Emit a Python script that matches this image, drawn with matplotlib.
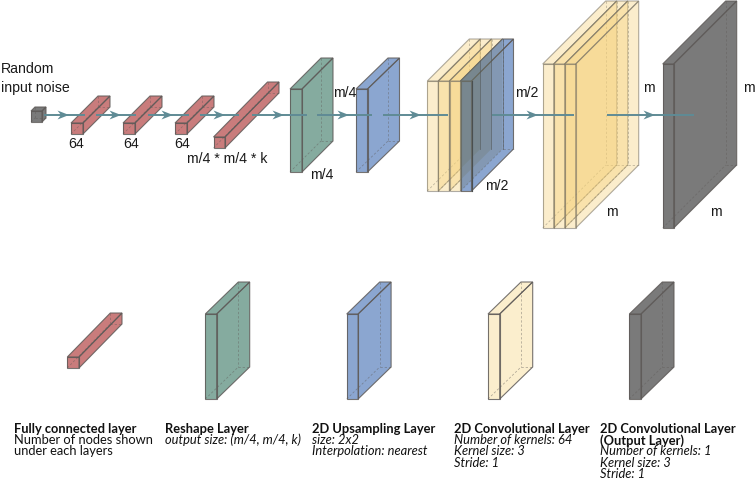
import matplotlib
matplotlib.use("Agg")
import matplotlib.pyplot as plt
from matplotlib.patches import Polygon

RED = '#c97c7c'
GREEN = '#85ab9f'
BLUE = '#8ba6d0'
PALE = '#fbeecd'
GRAY = '#7a7a7a'
ARROW = '#5f8b95'

# layer boxes: colour, front left x, front top y, front width, front height, depth x, depth y
box_colors = [GRAY, RED, RED, RED, RED, GREEN, BLUE,
              RED, GREEN, BLUE, PALE, GRAY]
box_x = [31, 71, 123, 175, 213.5, 290, 356,
         67.3, 205.3, 346.7, 488, 629.3]
box_y = [111, 123, 123, 123, 137, 89, 89,
         357, 314, 314, 314, 314]
box_w = [11, 12, 12, 12, 11.5, 12, 11.5,
         11.7, 11.4, 11.4, 11.7, 11.7]
box_h = [11, 11, 11, 11, 11, 83, 83,
         11, 85, 85, 85, 85]
box_dx = [4, 27, 27, 27, 54, 31, 32,
          43, 33, 33, 33, 33]
box_dy = [4, 27, 27, 27, 55, 31, 31,
          44, 32, 32, 32, 32]

# stacked conv layers
mid_x = [427.3, 438.4, 449.5]
mid_y = 81
mid_w = 11
mid_h = 110
mid_d = 42
mid_blue_x = 460.5

big_x = [542.7, 553.7, 564.7]
big_y = 64
big_w = 11
big_h = 164
big_d = 63
out_x = 662.7

# arrows: shaft start, shaft end, arrow head centre
arrow_y = 115
shaft_from = [44, 96, 148, 200, 252, 317, 383, 492, 607]
shaft_to = [85, 136, 189, 239, 307, 372, 448, 574, 694]
head_at = [63, 115, 167, 219, 278, 343, 415, 532, 649]

label_text = ['Random', 'input noise', '64', '64', '64', 'm/4 * m/4 * k', 'm/4', 'm/4',
              'm/2', 'm/2', 'm', 'm', 'm', 'm']
label_x = [1, 1, 76, 131, 182, 227, 345, 322, 497, 527, 649, 749, 612, 716]
label_y = [69, 88, 144, 144, 144, 159, 93, 175, 186, 93, 88, 88, 212, 212]

legend_x = [14, 165, 312, 454, 600]
legend_lines = [
    [('Fully connected layer', 'bold'), ('Number of nodes shown', 'normal'), ('under each layers', 'normal')],
    [('Reshape Layer', 'bold'), ('output size: (m/4, m/4, k)', 'italic')],
    [('2D Upsampling Layer', 'bold'), ('size: 2x2', 'italic'), ('Interpolation: nearest', 'italic')],
    [('2D Convolutional Layer', 'bold'), ('Number of kernels: 64', 'italic'), ('Kernel size: 3', 'italic'), ('Stride: 1', 'italic')],
    [('2D Convolutional Layer', 'bold'), ('(Output Layer)', 'bold'), ('Number of kernels: 1', 'italic'), ('Kernel size: 3', 'italic'), ('Stride: 1', 'italic')],
]
legend_top = 429
legend_step = 11.2


def draw_box(ax, x, y, w, h, dx, dy, color, alpha=1.0, edge='#5e5a58', z=2, edge_alpha=0.85):
    right = x + w
    bottom = y + h
    faces = [
        [(x, y), (right, y), (right, bottom), (x, bottom)],
        [(right, y), (right + dx, y - dy), (right + dx, bottom - dy), (right, bottom)],
        [(x, y), (x + dx, y - dy), (right + dx, y - dy), (right, y)],
    ]
    for face in faces:
        ax.add_patch(Polygon(face, closed=True, facecolor=color, edgecolor='none', alpha=alpha, zorder=z))
    # hidden edges
    hidden = [
        [(x + dx, y - dy), (x + dx, bottom - dy)],
        [(x + dx, bottom - dy), (right + dx, bottom - dy)],
        [(x, bottom), (x + dx, bottom - dy)],
    ]
    for line in hidden:
        xs, ys = zip(*line)
        ax.plot(xs, ys, color=edge, lw=0.55, ls=(0, (3, 2.5)), alpha=0.5, zorder=z)
    for face in faces:
        ax.add_patch(Polygon(face, closed=True, fill=False, edgecolor=edge, lw=0.8, alpha=edge_alpha, zorder=z))


def draw_head(ax, xc, y, color):
    head = [(xc + 6, y), (xc - 5.5, y - 4.5), (xc - 2, y), (xc - 5.5, y + 4.5)]
    ax.add_patch(Polygon(head, closed=True, facecolor=color, edgecolor='none', zorder=6))


fig = plt.figure(figsize=(7.56, 4.8), dpi=100)
ax = fig.add_axes([0, 0, 1, 1])
ax.set_xlim(0, 756)
ax.set_ylim(480, 0)
ax.axis('off')

for i in range(len(box_x)):
    draw_box(ax, box_x[i], box_y[i], box_w[i], box_h[i], box_dx[i], box_dy[i], box_colors[i])

# yellow stacks, the overlap builds up darker
for i, x in enumerate(mid_x):
    draw_box(ax, x, mid_y, mid_w, mid_h, mid_d, mid_d, '#f6d27a', alpha=0.38, edge='#7a7466',
             z=2 + i * 0.1, edge_alpha=0.6)
draw_box(ax, mid_blue_x, mid_y, mid_w, mid_h, mid_d, mid_d, BLUE, alpha=1.0, z=3)
# blue over each yellow layer reads darker
for x in mid_x:
    end = x + mid_w + mid_d
    cut = mid_blue_x - x - mid_w
    shade = [(mid_blue_x, mid_y), (end, mid_y - (end - mid_blue_x)),
             (end, mid_y + mid_h - mid_d), (mid_blue_x, mid_y + mid_h - cut)]
    ax.add_patch(Polygon(shade, closed=True, facecolor='#6e7568', edgecolor='none', alpha=0.27, zorder=3.2))
    ax.plot([end, end], [mid_y - (end - mid_blue_x), mid_y + mid_h - mid_d], color='#55595a', lw=0.6,
            alpha=0.7, zorder=3.3)
ax.plot([mid_blue_x + mid_w, mid_blue_x + mid_w], [mid_y, mid_y + mid_h], color='#4a4f50', lw=0.8, zorder=3.3)

for i, x in enumerate(big_x):
    draw_box(ax, x, big_y, big_w, big_h, big_d, big_d, '#f6d27a', alpha=0.38, edge='#7a7466',
             z=2 + i * 0.1, edge_alpha=0.6)
draw_box(ax, out_x, big_y, big_w, big_h, big_d, big_d, GRAY)

for i in range(len(head_at)):
    ax.plot([shaft_from[i], shaft_to[i]], [arrow_y, arrow_y], color=ARROW, lw=1.4, zorder=5, solid_capstyle='butt')
    draw_head(ax, head_at[i], arrow_y, ARROW)

for i in range(len(label_text)):
    ha = 'left' if i < 2 else 'center'
    ax.text(label_x[i], label_y[i], label_text[i], ha=ha, va='center', fontsize=10.2,
            family='Liberation Sans', color='#1a1a1a', zorder=7)

for x, lines in zip(legend_x, legend_lines):
    for j, (txt, kind) in enumerate(lines):
        ax.text(x, legend_top + j * legend_step, txt, ha='left', va='center', fontsize=9.3, family='Lato',
                fontweight='bold' if kind == 'bold' else 'normal',
                fontstyle='italic' if kind == 'italic' else 'normal', color='#111111', zorder=7)

fig.savefig('out.png', dpi=100)
